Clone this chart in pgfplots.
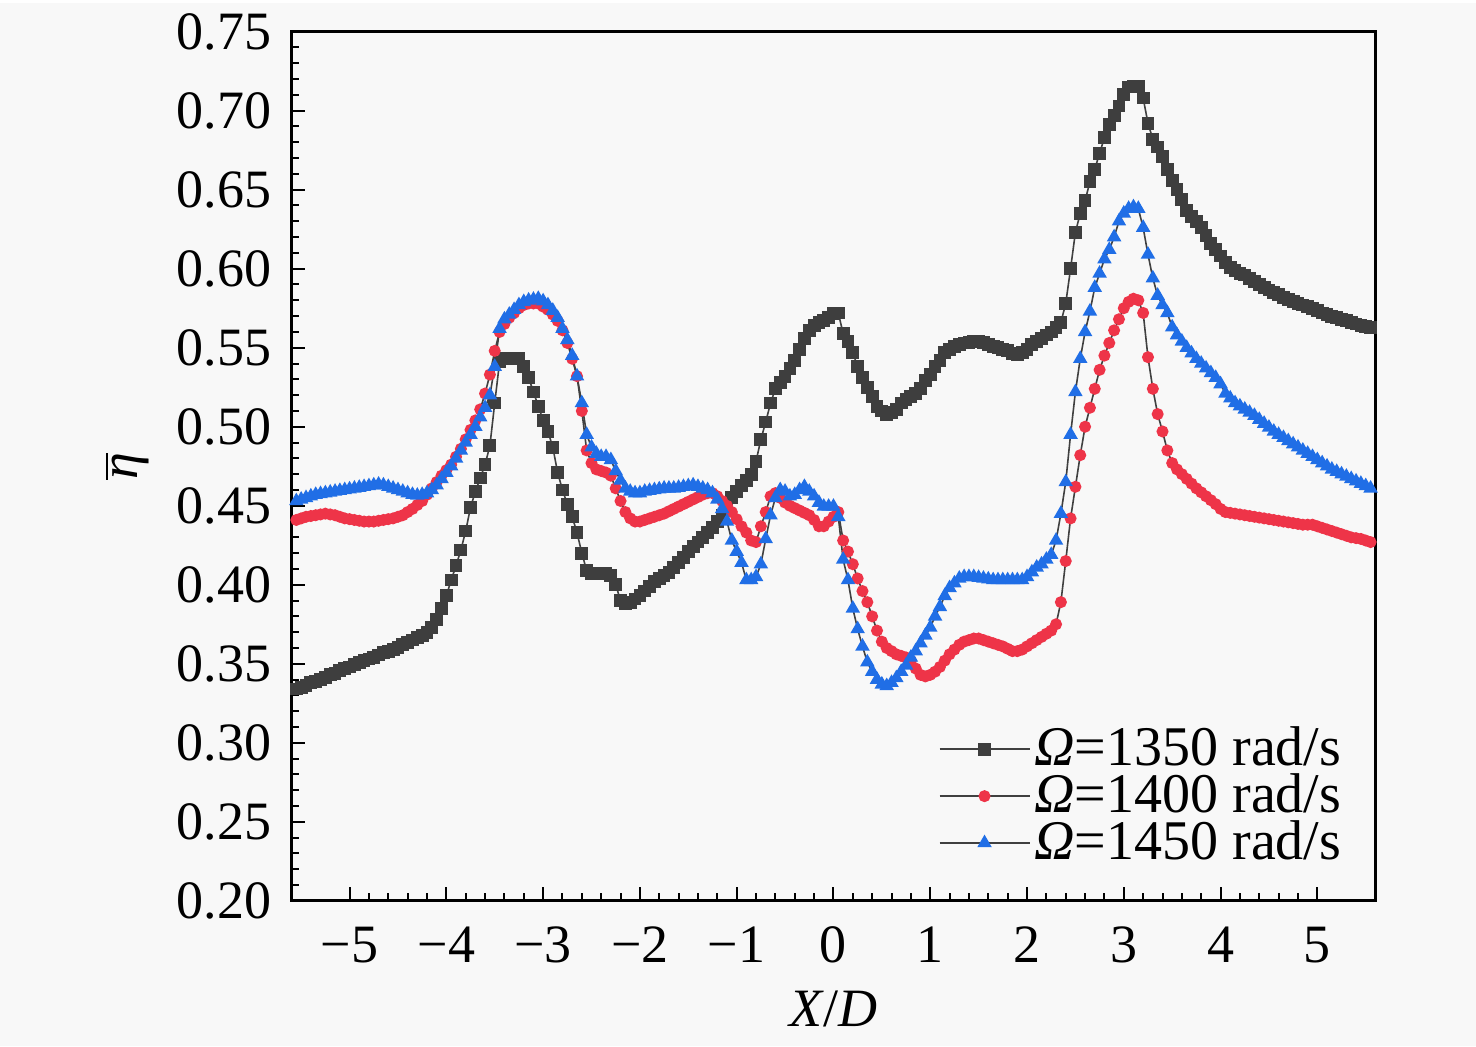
\documentclass[border=0pt]{standalone}
\usepackage{pgfplots}
\pgfplotsset{compat=1.18}
\usepackage{pgfplotstable}
\usepackage{fontspec}
\setmainfont{Liberation Serif}
\pgfdeclarelayer{background}
\pgfsetlayers{background,main}

\definecolor{cblk}{RGB}{62,62,62}
\definecolor{cred}{RGB}{238,52,72}
\definecolor{cblu}{RGB}{32,110,230}
\definecolor{bgc}{RGB}{248,248,248}

\pgfplotstableread{
x b r l
-5.55 0.334 0.441 0.453
-5.50 0.335 0.442 0.454
-5.45 0.3365 0.443 0.455
-5.40 0.338 0.4435 0.456
-5.35 0.339 0.444 0.457
-5.30 0.340 0.4445 0.4575
-5.25 0.3415 0.445 0.458
-5.20 0.343 0.4445 0.4585
-5.15 0.344 0.444 0.459
-5.10 0.3455 0.443 0.4595
-5.05 0.347 0.442 0.460
-5.00 0.348 0.4415 0.4605
-4.95 0.3495 0.441 0.461
-4.90 0.351 0.4405 0.4615
-4.85 0.352 0.440 0.462
-4.80 0.353 0.440 0.4625
-4.75 0.354 0.440 0.463
-4.70 0.3555 0.4405 0.4635
-4.65 0.357 0.441 0.463
-4.60 0.358 0.4415 0.462
-4.55 0.359 0.442 0.461
-4.50 0.3605 0.443 0.460
-4.45 0.362 0.444 0.459
-4.40 0.3635 0.446 0.458
-4.35 0.365 0.448 0.457
-4.30 0.3665 0.4505 0.4565
-4.25 0.368 0.453 0.457
-4.20 0.370 0.457 0.458
-4.15 0.373 0.461 0.460
-4.10 0.378 0.465 0.463
-4.05 0.385 0.469 0.467
-4.00 0.393 0.4725 0.471
-3.95 0.403 0.476 0.475
-3.90 0.412 0.481 0.480
-3.85 0.422 0.486 0.485
-3.80 0.434 0.492 0.490
-3.75 0.449 0.498 0.495
-3.70 0.459 0.504 0.500
-3.65 0.4675 0.511 0.506
-3.60 0.476 0.521 0.512
-3.55 0.488 0.533 0.520
-3.50 0.515 0.548 0.538
-3.45 0.541 0.560 0.562
-3.40 0.543 0.565 0.568
-3.35 0.543 0.569 0.571
-3.30 0.543 0.572 0.574
-3.25 0.543 0.575 0.577
-3.20 0.538 0.577 0.579
-3.15 0.531 0.578 0.580
-3.10 0.522 0.578 0.5805
-3.05 0.513 0.578 0.581
-3.00 0.504 0.576 0.5795
-2.95 0.497 0.574 0.577
-2.90 0.487 0.571 0.5735
-2.85 0.471 0.567 0.569
-2.80 0.460 0.561 0.562
-2.75 0.451 0.553 0.555
-2.70 0.443 0.543 0.545
-2.65 0.433 0.532 0.532
-2.60 0.420 0.510 0.515
-2.55 0.409 0.485 0.495
-2.50 0.407 0.477 0.487
-2.45 0.407 0.473 0.483
-2.40 0.407 0.472 0.481
-2.35 0.407 0.471 0.481
-2.30 0.406 0.469 0.479
-2.25 0.400 0.461 0.472
-2.20 0.390 0.453 0.466
-2.15 0.388 0.446 0.461
-2.10 0.389 0.442 0.459
-2.05 0.391 0.440 0.458
-2.00 0.393 0.440 0.458
-1.95 0.396 0.441 0.459
-1.90 0.399 0.442 0.4595
-1.85 0.402 0.443 0.460
-1.80 0.404 0.444 0.4605
-1.75 0.406 0.445 0.461
-1.70 0.408 0.4465 0.461
-1.65 0.411 0.448 0.461
-1.60 0.414 0.4495 0.4615
-1.55 0.417 0.451 0.462
-1.50 0.421 0.4525 0.4625
-1.45 0.424 0.454 0.463
-1.40 0.427 0.4555 0.462
-1.35 0.430 0.457 0.461
-1.30 0.433 0.458 0.460
-1.25 0.436 0.458 0.458
-1.20 0.440 0.456 0.454
-1.15 0.444 0.453 0.448
-1.10 0.449 0.450 0.440
-1.05 0.455 0.446 0.428
-1.00 0.459 0.4415 0.421
-0.95 0.463 0.437 0.414
-0.90 0.466 0.433 0.403
-0.85 0.470 0.428 0.403
-0.80 0.478 0.427 0.405
-0.75 0.492 0.437 0.413
-0.70 0.503 0.446 0.429
-0.65 0.515 0.456 0.444
-0.60 0.524 0.458 0.455
-0.55 0.528 0.455 0.460
-0.50 0.532 0.452 0.459
-0.45 0.537 0.450 0.456
-0.40 0.542 0.4485 0.457
-0.35 0.549 0.447 0.460
-0.30 0.556 0.4455 0.462
-0.25 0.561 0.444 0.459
-0.20 0.564 0.441 0.456
-0.15 0.566 0.437 0.452
-0.10 0.567 0.437 0.4495
-0.05 0.569 0.440 0.4495
0.00 0.5715 0.443 0.4495
0.05 0.572 0.446 0.443
0.10 0.559 0.428 0.416
0.15 0.554 0.421 0.403
0.20 0.547 0.413 0.385
0.25 0.538 0.404 0.372
0.30 0.531 0.396 0.361
0.35 0.525 0.389 0.351
0.40 0.519 0.380 0.345
0.45 0.513 0.371 0.340
0.50 0.510 0.364 0.337
0.55 0.5075 0.360 0.336
0.60 0.509 0.358 0.338
0.65 0.511 0.356 0.341
0.70 0.515 0.355 0.345
0.75 0.517 0.354 0.349
0.80 0.519 0.352 0.354
0.85 0.521 0.347 0.358
0.90 0.524 0.343 0.363
0.95 0.529 0.342 0.368
1.00 0.533 0.343 0.373
1.05 0.538 0.345 0.380
1.10 0.542 0.348 0.386
1.15 0.547 0.352 0.393
1.20 0.549 0.356 0.398
1.25 0.551 0.359 0.401
1.30 0.552 0.362 0.404
1.35 0.553 0.364 0.405
1.40 0.5535 0.365 0.405
1.45 0.554 0.366 0.405
1.50 0.554 0.366 0.4045
1.55 0.5535 0.365 0.404
1.60 0.552 0.364 0.4035
1.65 0.551 0.363 0.403
1.70 0.550 0.362 0.403
1.75 0.549 0.361 0.403
1.80 0.548 0.3595 0.403
1.85 0.5465 0.358 0.403
1.90 0.5455 0.358 0.403
1.95 0.547 0.359 0.403
2.00 0.549 0.361 0.405
2.05 0.552 0.363 0.408
2.10 0.554 0.365 0.411
2.15 0.556 0.367 0.413
2.20 0.558 0.369 0.416
2.25 0.560 0.371 0.419
2.30 0.563 0.375 0.428
2.35 0.566 0.389 0.445
2.40 0.578 0.415 0.465
2.45 0.600 0.442 0.495
2.50 0.623 0.462 0.522
2.55 0.635 0.482 0.543
2.60 0.643 0.500 0.560
2.65 0.655 0.512 0.573
2.70 0.663 0.524 0.588
2.75 0.673 0.536 0.597
2.80 0.683 0.545 0.606
2.85 0.691 0.553 0.612
2.90 0.697 0.561 0.620
2.95 0.703 0.568 0.630
3.00 0.710 0.575 0.635
3.05 0.715 0.579 0.638
3.10 0.7155 0.581 0.639
3.15 0.7154 0.580 0.638
3.20 0.708 0.572 0.626
3.25 0.692 0.544 0.609
3.30 0.682 0.524 0.594
3.35 0.677 0.508 0.583
3.40 0.671 0.497 0.577
3.45 0.663 0.485 0.572
3.50 0.656 0.477 0.563
3.55 0.650 0.473 0.558
3.60 0.644 0.470 0.554
3.65 0.637 0.467 0.550
3.70 0.633 0.464 0.5465
3.75 0.630 0.461 0.543
3.80 0.626 0.4585 0.540
3.85 0.621 0.456 0.537
3.90 0.616 0.4535 0.534
3.95 0.612 0.451 0.531
4.00 0.608 0.448 0.527
4.05 0.604 0.446 0.521
4.10 0.601 0.4455 0.518
4.15 0.599 0.445 0.515
4.20 0.597 0.4445 0.513
4.25 0.596 0.444 0.511
4.30 0.594 0.4435 0.509
4.35 0.592 0.443 0.507
4.40 0.590 0.4425 0.5045
4.45 0.588 0.442 0.502
4.50 0.5865 0.4415 0.4995
4.55 0.585 0.441 0.497
4.60 0.5835 0.4405 0.495
4.65 0.582 0.440 0.493
4.70 0.5805 0.4395 0.491
4.75 0.579 0.439 0.489
4.80 0.578 0.4385 0.487
4.85 0.577 0.438 0.485
4.90 0.576 0.438 0.483
4.95 0.575 0.438 0.481
5.00 0.5735 0.437 0.479
5.05 0.572 0.436 0.477
5.10 0.571 0.435 0.475
5.15 0.570 0.434 0.473
5.20 0.569 0.433 0.4715
5.25 0.568 0.432 0.470
5.30 0.567 0.431 0.4685
5.35 0.566 0.430 0.467
5.40 0.565 0.4295 0.4655
5.45 0.564 0.429 0.464
5.50 0.5635 0.428 0.4625
5.55 0.563 0.427 0.461
}\data

\begin{document}
\begin{tikzpicture}
\begin{axis}[
  name=ax,
  scale only axis,
  width=270.975pt, height=217.3pt,
  xmin=-5.6, xmax=5.6, ymin=0.2, ymax=0.75,
  xtick={-5,-4,-3,-2,-1,0,1,2,3,4,5},
  xticklabels={−5,−4,−3,−2,−1,0,1,2,3,4,5},
  ytick={0.20,0.25,0.30,0.35,0.40,0.45,0.50,0.55,0.60,0.65,0.70,0.75},
  minor x tick num=4, minor y tick num=4,
  xtick pos=bottom, ytick pos=left,
  tick align=inside,
  major tick length=3.5pt, minor tick length=2pt,
  every tick/.style={black, line width=0.5pt},
  axis line style={line width=0.8pt},
  /pgf/number format/assume math mode=true,
  every tick label/.append style={font=\fontsize{13.5}{15}\selectfont},
  xticklabel style={yshift=-3pt},
  yticklabel style={xshift=-1.5pt, /pgf/number format/.cd, fixed, fixed zerofill, precision=2},
  label style={font=\fontsize{13.5}{15}\selectfont},
  xlabel={\textit{X}/\textit{D}},
  ylabel={$\overline{\hbox{\itshape η}}$},
  legend style={draw=none, fill=none, at={(0.984,0.026)}, anchor=south east,
    font=\fontsize{14}{14}\selectfont, row sep=-1.5pt, nodes={inner sep=1pt}},
  legend cell align=left,
  legend image code/.code={\draw[mark repeat=2,mark phase=2] plot coordinates {(0pt,0pt)(11.25pt,0pt)(22.5pt,0pt)};},
]
\addplot[color=black!75, line width=0.4pt, mark=square*, mark size=1.4pt, mark options={fill=cblk, draw=cblk}] table[x=x,y=b]{\data};
\addlegendentry{\textit{Ω}=1350 rad/s}
\addplot[color=black!75, line width=0.4pt, mark=*, mark size=1.3pt, mark options={fill=cred, draw=cred}] table[x=x,y=r]{\data};
\addlegendentry{\textit{Ω}=1400 rad/s}
\addplot[color=black!75, line width=0.4pt, mark=triangle*, mark size=1.7pt, mark options={fill=cblu, draw=cblu}] table[x=x,y=l]{\data};
\addlegendentry{\textit{Ω}=1450 rad/s}
\end{axis}
\begin{pgfonlayer}{background}
\fill[bgc] ([xshift=-72.875pt, yshift=-36.35pt]ax.south west) rectangle ([xshift=25.15pt, yshift=7.075pt]ax.north east);
\end{pgfonlayer}
\end{tikzpicture}
\end{document}
